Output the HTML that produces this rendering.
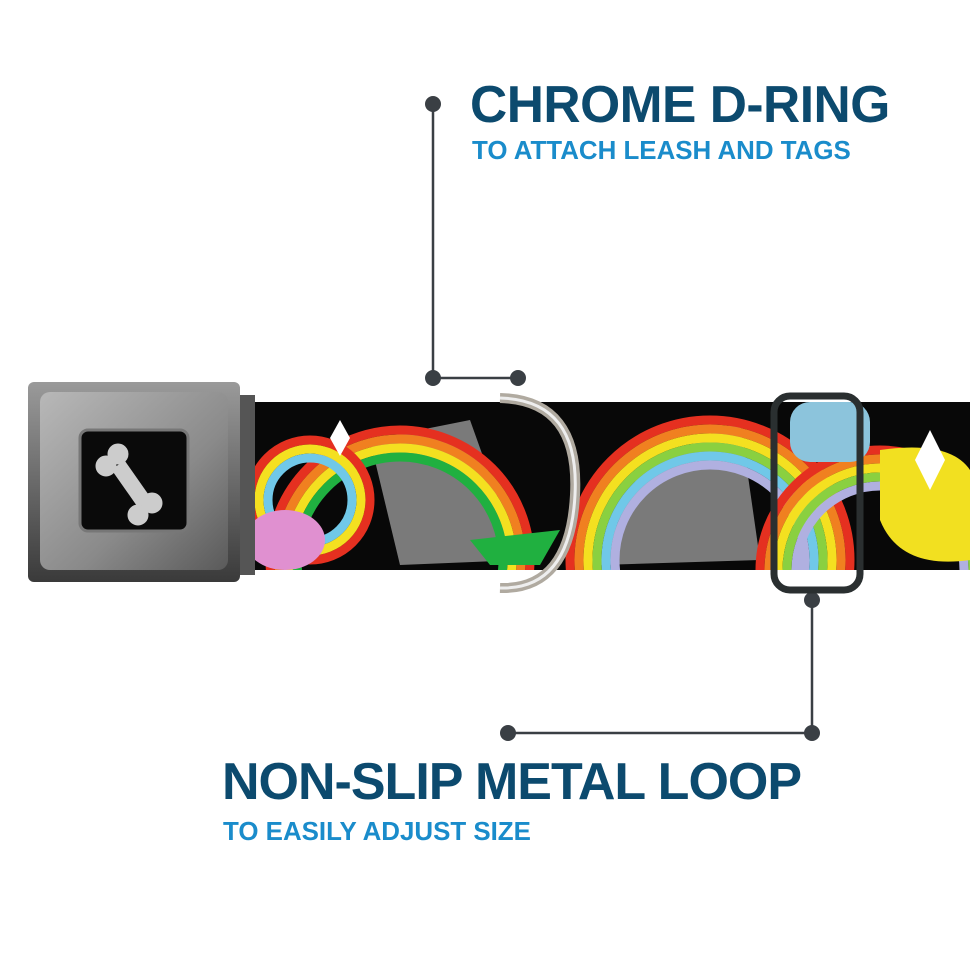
<!DOCTYPE html>
<html><head><style>
html,body{margin:0;padding:0;background:#fff;}
body{width:970px;height:971px;position:relative;overflow:hidden;font-family:"Liberation Sans",sans-serif;}
.t{position:absolute;font-weight:bold;white-space:nowrap;}
</style></head><body>
<svg width="970" height="971" style="position:absolute;left:0;top:0">
<defs>
<linearGradient id="bk" x1="0" y1="0" x2="0" y2="1"><stop offset="0" stop-color="#9a9a9a"/><stop offset="0.5" stop-color="#6a6a6a"/><stop offset="1" stop-color="#3a3a3a"/></linearGradient>
<linearGradient id="bk2" x1="0" y1="0" x2="1" y2="1"><stop offset="0" stop-color="#b8b8b8"/><stop offset="0.6" stop-color="#8a8a8a"/><stop offset="1" stop-color="#5a5a5a"/></linearGradient>
<clipPath id="sc"><rect x="255" y="402" width="715" height="168"/></clipPath>
</defs>
<g stroke="#3a3f44" stroke-width="2.5" fill="none">
<polyline points="433,104 433,378 518,378"/>
<polyline points="812,600 812,733 508,733"/>
</g>
<g fill="#3a3f44"><circle cx="433" cy="104" r="8"/><circle cx="433" cy="378" r="8"/><circle cx="518" cy="378" r="8"/><circle cx="812" cy="600" r="8"/><circle cx="812" cy="733" r="8"/><circle cx="508" cy="733" r="8"/></g>
<rect x="240" y="402" width="730" height="168" fill="#080808"/>
<g clip-path="url(#sc)">
<g fill="#7a7a7a"><polygon points="370,440 470,420 520,560 400,565"/><polygon points="640,470 740,420 760,560 600,565"/></g>
<g fill="none" stroke-width="9">
<circle cx="400" cy="560" r="130" stroke="#e53020"/><circle cx="400" cy="560" r="121" stroke="#f08020"/><circle cx="400" cy="560" r="112" stroke="#f4e020"/><circle cx="400" cy="560" r="103" stroke="#20b040"/>
<circle cx="710" cy="560" r="140" stroke="#e53020"/><circle cx="710" cy="560" r="131" stroke="#f08020"/><circle cx="710" cy="560" r="122" stroke="#f4e020"/><circle cx="710" cy="560" r="113" stroke="#8ad040"/><circle cx="710" cy="560" r="104" stroke="#70c8e8"/><circle cx="710" cy="560" r="95" stroke="#b0b0e0"/>
<circle cx="310" cy="500" r="60" stroke="#e53020"/><circle cx="310" cy="500" r="51" stroke="#f4e020"/><circle cx="310" cy="500" r="42" stroke="#70c8e8"/>
<circle cx="880" cy="570" r="120" stroke="#e53020"/><circle cx="880" cy="570" r="111" stroke="#f08020"/><circle cx="880" cy="570" r="102" stroke="#f4e020"/><circle cx="880" cy="570" r="93" stroke="#8ad040"/><circle cx="880" cy="570" r="84" stroke="#b0b0e0"/>
</g>
<rect x="790" y="402" width="80" height="60" fill="#8cc4dc" rx="20"/>
<ellipse cx="285" cy="540" rx="40" ry="30" fill="#e090d0"/>
<path d="M880 450 Q950 440 970 470 L970 560 Q900 570 880 520Z" fill="#f2e020"/>
<polygon points="470,540 560,530 540,565 490,565" fill="#20b040"/>
<polygon points="930,430 945,460 930,490 915,460" fill="#fff"/>
<polygon points="340,420 350,438 340,456 330,438" fill="#fff"/>
</g>
<rect x="225" y="395" width="30" height="180" fill="#555"/>
<rect x="28" y="382" width="212" height="200" rx="6" fill="url(#bk)"/>
<rect x="40" y="392" width="188" height="178" rx="10" fill="url(#bk2)"/>
<rect x="80" y="430" width="108" height="101" rx="8" fill="#0a0a0a" stroke="#777" stroke-width="3"/>
<g fill="#ccc" stroke="#ccc"><line x1="118" y1="465" x2="146" y2="505" stroke-width="16"/><circle cx="106" cy="466" r="10"/><circle cx="118" cy="454" r="10"/><circle cx="138" cy="515" r="10"/><circle cx="152" cy="503" r="10"/></g>
<path d="M500 398 Q580 400 575 495 Q570 590 500 588" fill="none" stroke="#b0aaa0" stroke-width="10"/>
<path d="M500 398 Q580 400 575 495 Q570 590 500 588" fill="none" stroke="#eee" stroke-width="3"/>
<rect x="774" y="396" width="86" height="194" rx="16" fill="none" stroke="#2a2f30" stroke-width="7"/>
</svg>
<div class="t" style="left:470px;top:74px;font-size:51.5px;color:#0c4a6e;letter-spacing:-0.5px">CHROME D-RING</div>
<div class="t" style="left:472px;top:137px;font-size:25.9px;color:#1a8ccb">TO ATTACH LEASH AND TAGS</div>
<div class="t" style="left:222px;top:752px;font-size:52px;color:#0c4a6e;letter-spacing:-1px">NON-SLIP METAL LOOP</div>
<div class="t" style="left:223px;top:818px;font-size:25.9px;color:#1a8ccb">TO EASILY ADJUST SIZE</div>
</body></html>
